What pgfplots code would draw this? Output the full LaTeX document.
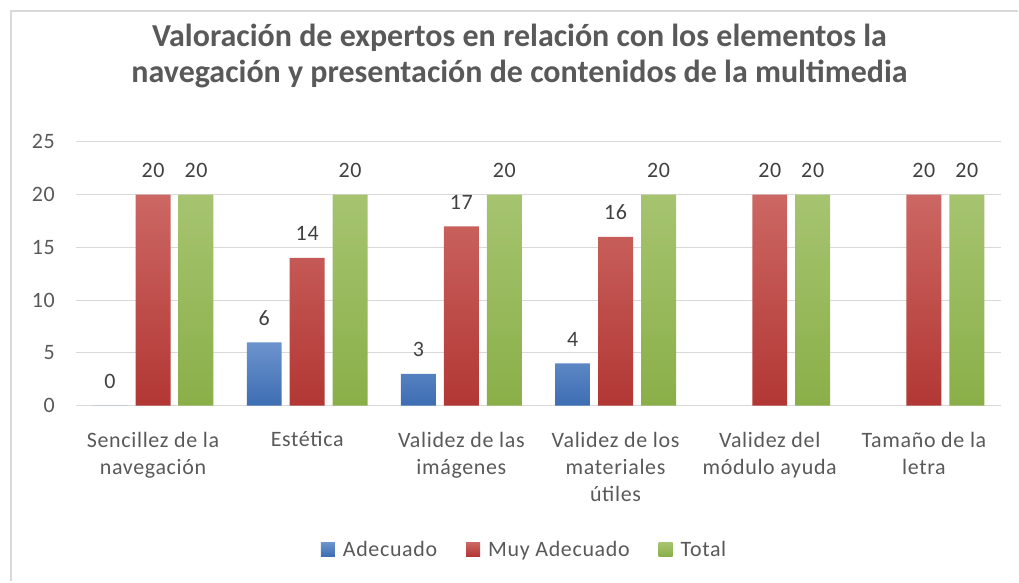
\documentclass[border=0pt]{standalone}
\usepackage{fontspec}
\setmainfont{Carlito}[LetterSpace=3]
\newfontfamily\titlefont{Carlito}
\usepackage{pgfplots}
\pgfplotsset{compat=1.18}
\definecolor{txtgray}{HTML}{595959}
\definecolor{lblgray}{HTML}{404040}
\definecolor{gridgray}{HTML}{D9D9D9}
\definecolor{btop}{HTML}{6C94CD}
\definecolor{bbot}{HTML}{3D6DB3}
\definecolor{rtop}{HTML}{CC6763}
\definecolor{rbot}{HTML}{B23734}
\definecolor{gtop}{HTML}{A6C470}
\definecolor{gbot}{HTML}{8AAF48}
\begin{document}
\begin{tikzpicture}
\path (0,0) rectangle (1019bp,582bp);
\draw[gridgray, line width=2bp] (11bp,0) -- (11bp,571bp) -- (1019bp,571bp);
\node[anchor=base, text=txtgray, font=\titlefont\fontsize{32bp}{36bp}\selectfont\bfseries, inner sep=0] at (520bp,535bp) {Valoración de expertos en relación con los elementos la};
\node[anchor=base, text=txtgray, font=\titlefont\fontsize{32bp}{36bp}\selectfont\bfseries, inner sep=0] at (520bp,499bp) {navegación y presentación de contenidos de la multimedia};
\begin{axis}[
  at={(76bp,176bp)}, anchor=south west,
  scale only axis, width=926bp, height=264bp,
  xmin=-0.5, xmax=5.5, ymin=0, ymax=25,
  ytick={0,5,...,25}, xtick={0,...,5},
  xticklabels={{Sencillez de la\\navegación},{Estética},{Validez de las\\imágenes},{Validez de los\\materiales\\útiles},{Validez del\\módulo ayuda},{Tamaño de la\\letra}},
  ymajorgrids, grid style={gridgray, line width=1bp},
  axis line style={draw=none}, major tick length=0pt,
  tick label style={text=txtgray, font=\fontsize{22bp}{27.5bp}\selectfont},
  xticklabel style={align=center, anchor=north, inner sep=0pt, yshift=-26bp},
  yticklabel style={anchor=east, inner sep=0pt, xshift=-21bp},
  /pgf/number format/assume math mode=true,
  ybar, bar width=35bp,
  nodes near coords,
  every node near coord/.append style={anchor=base, inner sep=0pt, yshift=17bp, text=lblgray, font=\fontsize{22bp}{24bp}\selectfont},
  legend style={at={(0.485,-0.545)}, anchor=center, draw=none, fill=none, legend columns=3, font=\fontsize{22bp}{24bp}\selectfont, text=txtgray, /tikz/every even column/.append style={column sep=27bp}, /tikz/every odd column/.append style={column sep=6bp}, inner sep=0pt},
  legend image code/.code={\path[#1, draw=none] (0bp,-7bp) rectangle (14bp,7bp);},
]
\addplot[bar shift=-43bp, draw=none, top color=btop, bottom color=bbot] coordinates {(0,0) (1,6) (2,3) (3,4)};
\addlegendentry{Adecuado}
\addplot[bar shift=0bp, draw=none, top color=rtop, bottom color=rbot] coordinates {(0,20) (1,14) (2,17) (3,16) (4,20) (5,20)};
\addlegendentry{Muy Adecuado}
\addplot[bar shift=43bp, draw=none, top color=gtop, bottom color=gbot] coordinates {(0,20) (1,20) (2,20) (3,20) (4,20) (5,20)};
\addlegendentry{Total}
\addplot[forget plot, bar shift=-43bp, draw=none, top color=btop, bottom color=bbot, nodes near coords=] coordinates {(4,0) (5,0)};
\end{axis}
\end{tikzpicture}
\end{document}
